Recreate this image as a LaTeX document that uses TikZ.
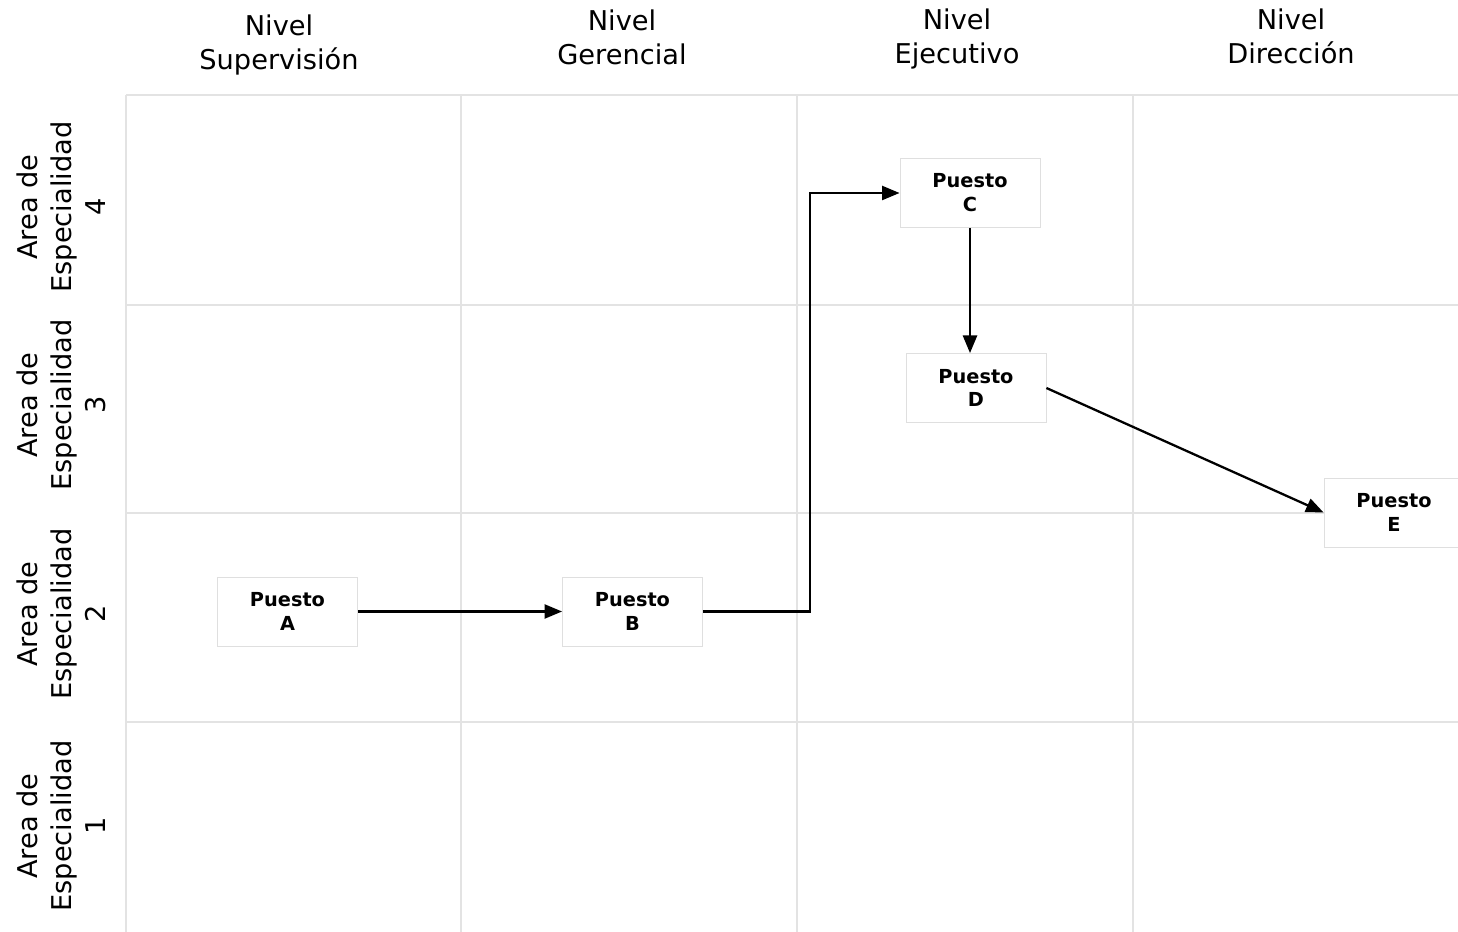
\documentclass[tikz,border=0pt]{standalone}
\usepackage{fontspec}
\setmainfont{DejaVu Sans}
\usetikzlibrary{arrows.meta}

\tikzset{
  rejilla/.style={draw=gray!22, line width=0.6pt},
  puesto/.style={draw=gray!25, fill=white, line width=0.5pt,
    minimum width=2.8cm, minimum height=1.38cm, inner sep=2pt,
    align=center, font=\fontsize{11}{13.6}\selectfont\bfseries},
  titulo/.style={align=center, font=\fontsize{15.5}{19.3}\selectfont},
  flecha/.style={line width=1.3pt, -{Triangle[length=10pt, width=8pt]}},
}

\begin{document}
\begin{tikzpicture}[x=0.02cm, y=-0.02cm]
    \useasboundingbox (0, 0) rectangle (1458, 932);

    % Grid of levels and areas
    \foreach \x in {126, 461, 797, 1133} {
      \draw[rejilla] (\x, 95) -- (\x, 932);
    }
    \foreach \y in {95, 305, 513, 722} {
      \draw[rejilla] (126, \y) -- (1458, \y);
    }

    % Column headers
    \node[titulo] (supervision) at (279, 45) {Nivel\\Supervisión};
    \node[titulo] (gerencial) at (622, 37) {Nivel\\Gerencial};
    \node[titulo] (ejecutivo) at (957, 39) {Nivel\\Ejecutivo};
    \node[titulo] (direccion) at (1291, 36) {Nivel\\Dirección};

    % Row labels
    \node[titulo, rotate=90] (area4) at (61, 207) {Area de\\Especialidad\\4};
    \node[titulo, rotate=90] (area3) at (61, 405) {Area de\\Especialidad\\3};
    \node[titulo, rotate=90] (area2) at (61, 614) {Area de\\Especialidad\\2};
    \node[titulo, rotate=90] (area1) at (61, 826) {Area de\\Especialidad\\1};

    % Positions
    \node[puesto] (A) at (287.5, 611.5) {Puesto\\A};
    \node[puesto] (B) at (632.5, 611.5) {Puesto\\B};
    \node[puesto] (C) at (970, 193) {Puesto\\C};
    \node[puesto] (D) at (976, 388) {Puesto\\D};
    \node[puesto] (E) at (1394, 512.5) {Puesto\\E};

    \coordinate (codo) at (810, 400);

    % Career path
    \draw[flecha] (A.east) -- (B.west);
    \draw[flecha] (B.east) -- (B.east -| codo) |- (C.west);
    \draw[flecha] (C.south) -- (C.south |- D.north);
    \draw[flecha] (D.east) -- (E.west);
  \end{tikzpicture}
\end{document}
